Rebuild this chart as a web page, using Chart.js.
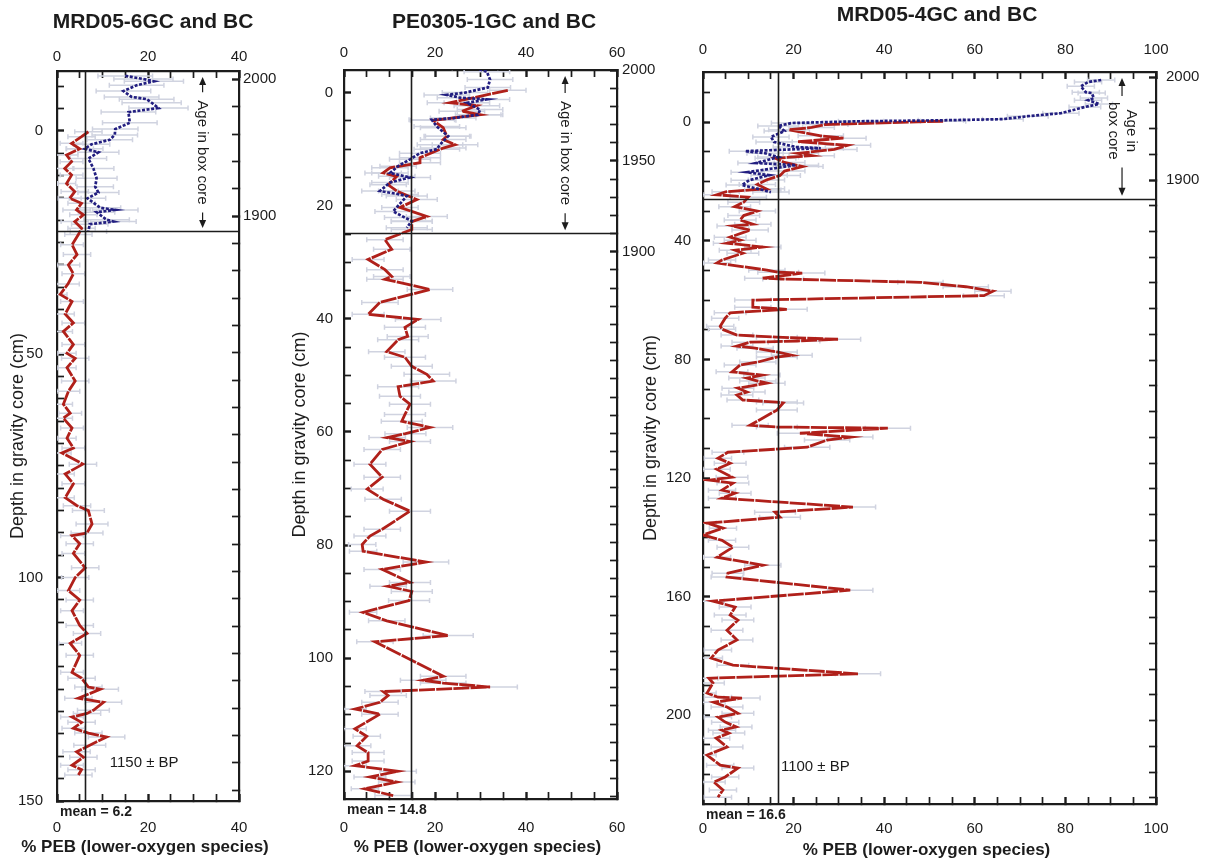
<!DOCTYPE html>
<html lang="en">
<head>
<meta charset="UTF-8">
<title>% PEB down-core, MRD05 and PE0305 cores</title>
<script src="https://cdn.jsdelivr.net/npm/chart.js"></script>
<style>
  body { margin: 0; background: #fff; }
  #wrap { position: relative; width: 1213px; height: 859px; overflow: hidden; }
  #wrap canvas { position: absolute; top: 0; }
</style>
</head>
<body>
<div id="wrap">
  <canvas id="c1" width="285" height="859" style="left:0px"></canvas>
  <canvas id="c2" width="395" height="859" style="left:270px"></canvas>
  <canvas id="c3" width="573" height="859" style="left:640px"></canvas>
</div>
<script>
// each point: [depth (cm), % PEB, error half-width]
const coreNames = ['MRD05-6GC and BC', 'PE0305-1GC and BC', 'MRD05-4GC and BC'];
const coreMeans = [6.2, 14.8, 16.6];
const boxCoreBase = [22.4, 24.85, 25.8];   // depth where the box core record ends
const basalAges = ['1150 \u00b1 BP', '', '1100 \u00b1 BP'];
const pctTickLabels = [[0, 20, 40], [0, 20, 40, 60], [0, 20, 40, 60, 80, 100]];
const depthTickLabels = [[0, 50, 100, 150], [0, 20, 40, 60, 80, 100, 120], [0, 40, 80, 120, 160, 200]];
const ageTickLabels = [[1900, 2000], [1900, 1950, 2000], [1900, 2000]];

const mrd6Gravity = [
  [0.2,6.9,3],[1.3,5.4,3],[2.8,3.2,2.5],[4.0,5.0,3],[5.4,2.1,2.5],[6.9,3.2,2.5],[8.4,1.7,2],[9.9,3.2,2.5],
  [11.8,2.1,2],[13.6,3.9,3],[15.1,2.8,2.5],[16.2,5.4,3],[17.7,4.3,3],[18.8,5.8,3],[20.3,3.9,3],[21.8,5.4,3],
  [23.2,4.7,3],[25.5,3.3,2.5],[27.7,4.4,3],[30,2.5,2.5],[32,3.6,2.5],[34.3,2.4,2.5],[36.6,0.7,1.5],[38.2,3.3,2.5],
  [41,1.8,2],[43,3.6,2.5],[44.9,1.4,2],[47.8,3.6,2.5],[49.8,2.2,2],[50.9,4,3],[53,2.2,2],[56,4,3],
  [58.3,2.5,2.5],[61.2,1.4,2],[63.2,2.9,2.5],[64.3,1.4,2],[66.5,3.3,2.5],[68.8,2.2,2],[71,3.6,2.5],[72.1,1.1,2],
  [74.6,5.7,3],[76.8,1.8,2],[79,3.6,2.5],[82.1,1.8,2],[83.9,4.4,3],[85,6.9,3.5],[88,7.7,3.5],[90,6.6,3.5],
  [90.6,3.3,2.5],[92.4,5,3],[94.6,3.6,2.5],[97.8,6.2,3],[100,4,3],[102.9,2.5,2.5],[105,5,3],[107.4,3.3,2.5],
  [110.7,5,3],[112.5,6.6,3],[114.7,2.9,2.5],[117.4,5,3],[121.2,3.3,2.5],[122.5,5.4,3],[124.5,6.9,3],[125,9.5,4],
  [127,4.7,3],[127.9,10.2,4],[129.7,8,3.5],[130.4,6.6,3],[131.2,3.3,2.5],[132.4,5.4,3],[133.7,3.6,2.5],[134.8,6.9,3],
  [135.7,10.9,4],[137.5,7.2,3.5],[139,4.3,3],[140.2,5.8,3],[142,3.3,2.5],[143,5.4,3],[144.2,4.7,3]
];
const mrd6Box = [
  [-12.3,15,6],[-11.6,19,6.5],[-11.1,21.3,6.5],[-10.2,17.5,6],[-8.9,14.6,6],[-7.6,16.4,6],[-7.1,19.7,6],
  [-6.3,20.8,6.5],[-5.1,22.3,6.5],[-4.2,15.7,6],[-1.8,16,6],[-0.4,12.8,5],[0.9,12.7,5],[2,11.6,5],[3,7.6,4],
  [4,6.1,4],[4.8,9.1,4.5],[6.2,6.9,4],[8.4,8,4.5],[10.6,8.7,4.5],[12.5,8.4,4],[13.8,9.1,4.5],[15.1,6.7,4],
  [17.2,9.5,4.5],[17.7,12.8,5],[18.2,8.7,4],[19.9,10.9,5],[20.3,12.4,5],[20.9,7.2,4],[22.5,6.9,4]
];
const pe1Gravity = [
  [-0.4,36,4],[1.8,23.3,5],[2.3,29.2,5],[3.3,25.9,5],[3.9,29.9,5],[4.9,19.6,5],[6.2,21.8,5],[7.7,22.6,5],
  [8.3,21.8,5],[9.2,24.4,5],[9.8,21.8,5],[11.5,16.7,4.5],[12.4,16.7,4.5],[13.3,10.1,4],[14.2,8.6,4],[14.8,11.6,4],
  [16.3,9.7,4],[17.4,11.6,4],[18.9,16,4.5],[20.3,12.3,4],[21.9,18.2,4.5],[22.8,14.9,4.5],[24.2,14.9,4.5],[26,9,4],
  [27.7,10.5,4],[29.5,5.3,3.5],[31.3,9,4],[32.5,10.5,4],[33,9,4],[34.8,18.9,5],[37.1,7.9,4],[39.2,5.3,3.5],
  [40.1,16.3,5],[41.5,13.4,4.5],[43.1,14,4.5],[43.7,11.9,4.5],[45.8,9.4,4],[46.8,13.4,4.5],[48.4,14.9,4.5],
  [49.8,18.2,5],[51,19.6,5],[52,11.9,4.5],[53.7,12.3,4.5],[55.1,14.5,4.5],[56.9,13.4,4.5],[58.1,12.7,4.5],
  [59.2,18.9,5],[60.3,13.5,4.5],[61,9.5,4],[61.7,14.5,4.5],[63.1,8.4,4],[65.7,5.7,3.5],[68,8.4,4],[70.1,5.1,3.5],
  [71.9,8.6,4],[74,14.5,4.5],[77.2,8.4,4],[78.4,5.7,3.5],[79.9,4,3],[81.1,4.2,3],[83,18,5],[84.3,8.4,4],
  [86.6,14.5,4.5],[87.3,9.7,4],[88.2,14.9,4.5],[89.8,14.3,4.5],[91.9,4.2,3],[93.4,9.4,4],[96,22.9,5.5],
  [97.1,6.8,4],[103.2,21.8,5],[103.9,17.4,5],[104.4,21.8,5],[105.1,32.1,6],[105.9,8.6,4],[106.6,9.7,4],
  [107.8,7.9,4],[109,2.4,2.5],[109.9,7.9,4],[112.5,2.4,2.5],[113.8,5,3],[115.5,2.9,3],[116.7,5.3,3.5],
  [118.2,5.3,3.5],[119,2.4,2.5],[120,11.9,4],[121,5.7,3.5],[121.9,11.6,4],[123.1,4.6,3],[124.3,10.8,4]
];
const pe1Box = [
  [-4.4,28.8,5],[-3.7,31.4,5],[-2.3,32.1,5],[-0.9,31.6,5],[0,26.6,5],[0.4,22.6,5],[0.9,25.5,5],[1.2,31.4,5],
  [1.8,27,5],[3,29.9,5],[3.9,29.5,5],[4.5,24,5],[4.8,19.3,5],[6,20.4,5],[7.7,22.9,5],[9.2,21.1,5],[10,20.4,5],
  [10.7,16.7,4.5],[11.8,14.5,4.5],[13,11.9,4],[14.2,10.1,4],[15,14.5,4.5],[15.9,10.1,4],[17.4,7.9,4],
  [18,12.3,4],[18.3,13.8,4.5],[21,10.8,4],[22.1,13.4,4.5],[22.7,14.9,4.5],[23.9,13.8,4.5]
];
const mrd4Gravity = [
  [-0.3,53,5],[0.8,27,5],[1.8,24,5],[2.6,19,4.5],[4.6,26,5],[5.4,31,5],[6.6,21,4.5],[7.8,32,5],[9.2,29,5],
  [10.5,21,4.5],[11.3,24,5],[12.2,16,4.5],[13.6,18,4.5],[15,22,4.5],[16.5,18,4.5],[18,17,4.5],[19.5,14,4],
  [21,12,4],[22.5,14,4],[23.5,5,3],[24.5,3,3],[25.3,10,4],[27,9,3.5],[28.5,7,3.5],[30,12,4],[31.5,9,3.5],
  [33,8.2,3.5],[34.4,11,4],[35,6.6,3.5],[36.4,10.4,4],[38.8,6,3.5],[39.8,8.2,3.5],[40.8,5.3,3],[42.1,13.2,4],
  [43.2,7.1,3.5],[44.2,8.8,3.5],[46.5,4.2,3],[47.5,3.1,3],[49.9,14.1,4],[50.6,16.6,4.5],[50.9,21.9,5],
  [52.6,13.2,4],[52.9,17.7,4.5],[54,48,5],[55.5,58,5],[57,64,4],[58.5,62,4.5],[60,11,4],[62.4,11,4],
  [63.1,18.5,4.5],[64.3,6,3.5],[66.1,4.9,3],[68.8,3.8,3],[69.8,4.2,3],[71.8,7.5,3.5],[72.5,16.3,4.5],
  [73.2,29.8,5],[73.8,20.8,5],[74.2,10.4,4],[75.5,7.5,3.5],[76.2,11.5,4],[77.5,16.3,4.5],[78.6,19.6,4.5],
  [79.2,16.3,4.5],[80.9,12.1,4],[81.9,8.2,3.5],[84.2,6.4,3.5],[85.3,13,4],[86.3,9.7,4],[87.3,12.1,4],
  [88,14.1,4],[89.7,7.7,3.5],[91,9.7,4],[92,7.5,3.5],[93.7,8.8,3.5],[94.4,16.3,4.5],[94.7,17.7,4.5],
  [97.1,16.3,4.5],[102.2,10.4,4],[102.8,16.3,4.5],[103.2,40.8,5],[104.9,21.4,5],[106.2,32.5,5],[107.2,27.4,5],
  [109.6,23,5],[111.3,5.5,3.5],[113.3,3.3,3],[115,6,3.5],[117,3,3],[119.7,6.4,3.5],[120.7,1.5,2],[121.7,6.6,3.5],
  [124.1,4.2,3],[125.1,7.1,3.5],[126.8,4.2,3],[129.8,33.1,5],[131.5,15.9,4.5],[133.2,17,4.5],[135.2,0.9,2],
  [136.9,4.4,3],[139.2,0,1.5],[141,4.2,3],[143.3,6.6,3.5],[146.7,3.1,3],[149.4,13.2,4],[152.1,5.5,3.5],
  [153.4,5.3,3.5],[157.8,32.5,5],[161.5,2.2,2.5],[163.5,7.1,3.5],[166.2,6,3.5],[167.9,7.7,3.5],[171.3,5.3,3.5],
  [174.6,7.5,3.5],[178,3.3,3],[180.7,1.8,2.5],[183.1,6.6,3.5],[186,34.2,5],[187.5,1.3,2],[189.1,2.2,2.5],
  [192.5,0.9,2],[193.9,3.3,3],[194.2,8.6,4],[195.6,2.4,2.5],[197.2,5.3,3.5],[199.3,7.7,3.5],[200.6,3.3,3],
  [202.3,4.9,3],[203.9,7.3,3.5],[205,4.2,3],[206,5.7,3.5],[207.7,2.9,3],[210.7,5.3,3.5],[213.4,0.9,2],
  [216.8,3.8,3],[217.8,7.7,3.5],[220.8,4.9,3],[222.5,2.4,2.5],[225.2,4.4,3],[227.6,3.3,3]
];
const mrd4Box = [
  [-14.2,87.9,3],[-13.5,85,3],[-12.1,83.4,3],[-10.1,84.5,3],[-9.8,85.8,3],[-8.1,86.3,3],[-7.4,85,3],
  [-6.1,87.4,3],[-5.1,84.3,3.5],[-3,79,4],[-2,71.7,4.5],[-1,66.2,4.5],[-0.6,52.5,5],[-0.3,34.9,5],
  [0.3,19.6,4.5],[1.3,16.6,4.5],[3,18,4.5],[5,15,4],[6.7,15.7,4],[8.4,20.5,5],[8.8,26,5],[9.8,9.3,3.5],
  [10.5,13.7,4],[11.8,16.6,4.5],[13.8,11.7,4],[14.5,20.5,5],[16.9,9.7,3.5],[17.9,14.6,4],[19.6,10.2,4],
  [21.2,8.6,3.5],[22.9,13.2,4],[23.6,15,4]
];

const gravityCores = [mrd6Gravity, pe1Gravity, mrd4Gravity];
const boxCores = [mrd6Box, pe1Box, mrd4Box];

// page geometry of each panel (pixels)
const layouts = [
  { canvas: 'c1', padL: 57, padR: 46, padT: 71, padB: 58, titleX: 153, titleY: 22, xTitleY: 847,
    pctMax: 40, depthMin: -13.4, depthMax: 150, depthStep: 5, ageMin: 1472, ageMax: 2006.1, ageStep: 20,
    yTitlePad: 7, leftPad: 21, topPad: 12, bottomPad: 25, rightPad: 11,
    notePct: 32, bpAt: [11.6, 141.4], twoLineNote: false },
  { canvas: 'c2', padL: 74, padR: 48, padT: 70, padB: 60, titleX: 224, titleY: 22, xTitleY: 847,
    pctMax: 60, depthMin: -4.0, depthMax: 124.9, depthStep: 5, ageMin: 1598.8, ageMax: 2000, ageStep: 10,
    yTitlePad: 19, leftPad: 18, topPad: 15, bottomPad: 27, rightPad: 12,
    notePct: 48.6, bpAt: null, twoLineNote: false },
  { canvas: 'c3', padL: 63, padR: 57, padT: 72, padB: 55, titleX: 297, titleY: 15, xTitleY: 850,
    pctMax: 100, depthMin: -16.9, depthMax: 229.9, depthStep: 10, ageMin: 1294, ageMax: 2004.9, ageStep: 25,
    yTitlePad: 0, leftPad: 19, topPad: 20, bottomPad: 23, rightPad: 17,
    notePct: 92.5, bpAt: [17.2, 217.5], twoLineNote: true }
];

const FONT = '"Liberation Sans", Arial, Helvetica, sans-serif';
Chart.defaults.font.family = FONT;
Chart.defaults.color = '#1c1c1c';

const RED = 'rgb(176,32,26)';
const BLUE = 'rgb(34,30,128)';
const ERR = 'rgb(208,211,224)';
const INK = '#1c1c1c';

function stepTicks(lo, hi, step, anchor) {
  const out = [];
  let k = Math.ceil((lo - anchor) / step);
  for (let v = anchor + k * step; v <= hi + 1e-6; v = anchor + (++k) * step) out.push({ value: v });
  return out;
}

function arrow(ctx, x, yFrom, yTo) {
  const dir = Math.sign(yTo - yFrom);
  ctx.beginPath();
  ctx.moveTo(x, yFrom);
  ctx.lineTo(x, yTo - dir * 5);
  ctx.stroke();
  ctx.beginPath();
  ctx.moveTo(x, yTo);
  ctx.lineTo(x - 3.5, yTo - dir * 8);
  ctx.lineTo(x + 3.5, yTo - dir * 8);
  ctx.closePath();
  ctx.fill();
}

function overlay(i) {
  const L = layouts[i];
  return {
    id: 'overlay' + i,
    beforeDatasetsDraw(chart) {
      const { ctx, chartArea: a, scales: { x, y } } = chart;
      ctx.save();
      ctx.beginPath();
      ctx.rect(a.left, a.top, a.right - a.left, a.bottom - a.top);
      ctx.clip();
      ctx.strokeStyle = ERR;
      ctx.lineWidth = 1.5;
      [gravityCores[i], boxCores[i]].forEach(series => series.forEach(([d, v, e]) => {
        const py = y.getPixelForValue(d);
        const x0 = x.getPixelForValue(v - e), x1 = x.getPixelForValue(v + e);
        ctx.beginPath();
        ctx.moveTo(x0, py); ctx.lineTo(x1, py);
        ctx.moveTo(x0, py - 2.5); ctx.lineTo(x0, py + 2.5);
        ctx.moveTo(x1, py - 2.5); ctx.lineTo(x1, py + 2.5);
        ctx.stroke();
      }));
      ctx.restore();
    },
    afterDatasetsDraw(chart) {
      const { ctx, chartArea: a, scales: { x, y } } = chart;
      ctx.save();
      ctx.strokeStyle = INK;
      ctx.lineWidth = 1.6;
      const mx = Math.round(x.getPixelForValue(coreMeans[i])) + 0.5;
      ctx.beginPath(); ctx.moveTo(mx, a.top); ctx.lineTo(mx, a.bottom); ctx.stroke();
      const by = Math.round(y.getPixelForValue(boxCoreBase[i])) + 0.5;
      ctx.beginPath(); ctx.moveTo(a.left, by); ctx.lineTo(a.right, by); ctx.stroke();
      ctx.restore();
    },
    afterDraw(chart) {
      const { ctx, chartArea: a, scales: { x, y } } = chart;
      ctx.save();
      ctx.fillStyle = INK;
      ctx.strokeStyle = INK;
      ctx.lineWidth = 1.2;
      // panel title
      ctx.font = 'bold 21px ' + FONT;
      ctx.textAlign = 'center';
      ctx.textBaseline = 'middle';
      ctx.fillText(coreNames[i], L.titleX, L.titleY);
      // x axis title (drawn here so it can be wider than the plot)
      ctx.font = 'bold 17px ' + FONT;
      ctx.fillText('% PEB (lower-oxygen species)', (a.left + a.right) / 2 - 3, L.xTitleY);
      // mean label under the frame
      ctx.font = 'bold 14px ' + FONT;
      ctx.textAlign = 'left';
      ctx.fillText('mean = ' + coreMeans[i], a.left + 3, a.bottom + 11);
      // basal age
      if (L.bpAt) {
        ctx.font = '15px ' + FONT;
        ctx.fillText(basalAges[i], x.getPixelForValue(L.bpAt[0]), y.getPixelForValue(L.bpAt[1]));
      }
      // "Age in box core" note with arrows
      const cx = x.getPixelForValue(L.notePct);
      const tipTop = a.top + 6;
      const tipBot = y.getPixelForValue(boxCoreBase[i]) - 3;
      const cy = (tipTop + tipBot) / 2;
      ctx.font = '15px ' + FONT;
      ctx.textAlign = 'center';
      if (!L.twoLineNote) {
        const w = ctx.measureText('Age in box core').width;
        ctx.save();
        ctx.translate(cx, cy);
        ctx.rotate(Math.PI / 2);
        ctx.fillText('Age in box core', 0, 0);
        ctx.restore();
        arrow(ctx, cx, cy - w / 2 - 8, tipTop);
        arrow(ctx, cx, cy + w / 2 + 8, tipBot);
      } else {
        const w = ctx.measureText('box core').width;
        const mid = cy - 6;
        ctx.save();
        ctx.translate(cx, mid);
        ctx.rotate(Math.PI / 2);
        ctx.fillText('Age in', 0, -9);
        ctx.fillText('box core', 0, 9);
        ctx.restore();
        arrow(ctx, cx, mid - w / 2 - 6, tipTop);
        arrow(ctx, cx, mid + w / 2 + 8, tipBot);
      }
      ctx.restore();
    }
  };
}

function tickGrid() {
  return {
    drawOnChartArea: false, drawTicks: true, tickLength: -7, tickColor: INK,
    tickWidth: c => (c.tick && c.tick.label !== '' ? 2.4 : 1.7)
  };
}
const frame = { display: true, color: INK, width: 2.2 };

layouts.forEach((L, i) => {
  const pctLabels = pctTickLabels[i], depthLabels = depthTickLabels[i], ageLabels = ageTickLabels[i];
  const pctAxis = (pos, pad) => ({
    type: 'linear', position: pos, min: 0, max: L.pctMax,
    afterBuildTicks: s => { s.ticks = stepTicks(0, L.pctMax, 5, 0); },
    afterFit: s => { s.height = pos === 'top' ? L.padT : L.padB; },
    ticks: { padding: pad, autoSkip: false, maxRotation: 0, font: { size: 15 },
             callback: v => (pctLabels.includes(v) ? String(v) : '') },
    grid: tickGrid(), border: frame
  });

  new Chart(document.getElementById(L.canvas), {
    type: 'scatter',
    data: {
      datasets: [
        { label: 'Box core', data: boxCores[i].map(p => ({ x: p[1], y: p[0] })),
          showLine: true, borderColor: BLUE, borderWidth: 2.7, borderDash: [3, 1.6],
          pointRadius: 0, order: 0, xAxisID: 'x', yAxisID: 'y' },
        { label: 'Gravity core', data: gravityCores[i].map(p => ({ x: p[1], y: p[0] })),
          showLine: true, borderColor: RED, borderWidth: 2.8, borderDash: [16, 1.2],
          pointRadius: 0, order: 1, xAxisID: 'x', yAxisID: 'y' }
      ]
    },
    options: {
      responsive: false, animation: false, events: [],
      layout: { padding: 0 },
      plugins: { legend: { display: false }, tooltip: { enabled: false }, title: { display: false } },
      scales: {
        x: pctAxis('bottom', L.bottomPad),
        xTop: pctAxis('top', L.topPad),
        y: {
          type: 'linear', position: 'left', reverse: true, min: L.depthMin, max: L.depthMax,
          afterBuildTicks: s => { s.ticks = stepTicks(L.depthMin, L.depthMax, L.depthStep, 0); },
          afterFit: s => { s.width = L.padL; },
          ticks: { padding: L.leftPad, autoSkip: false, font: { size: 15 },
                   callback: v => (depthLabels.includes(v) ? String(v) : '') },
          grid: tickGrid(), border: frame,
          title: { display: true, text: 'Depth in gravity core (cm)', font: { size: 18 },
                   padding: { top: L.yTitlePad, bottom: 0 } }
        },
        yAge: {
          type: 'linear', position: 'right', min: L.ageMin, max: L.ageMax,
          afterBuildTicks: s => { s.ticks = stepTicks(L.ageMin, L.ageMax, L.ageStep, 2000); },
          afterFit: s => { s.width = L.padR; },
          ticks: { padding: L.rightPad, autoSkip: false, font: { size: 15 },
                   callback: v => (ageLabels.includes(v) ? String(v) : '') },
          grid: tickGrid(), border: frame
        }
      }
    },
    plugins: [overlay(i)]
  });
});
</script>
</body>
</html>
